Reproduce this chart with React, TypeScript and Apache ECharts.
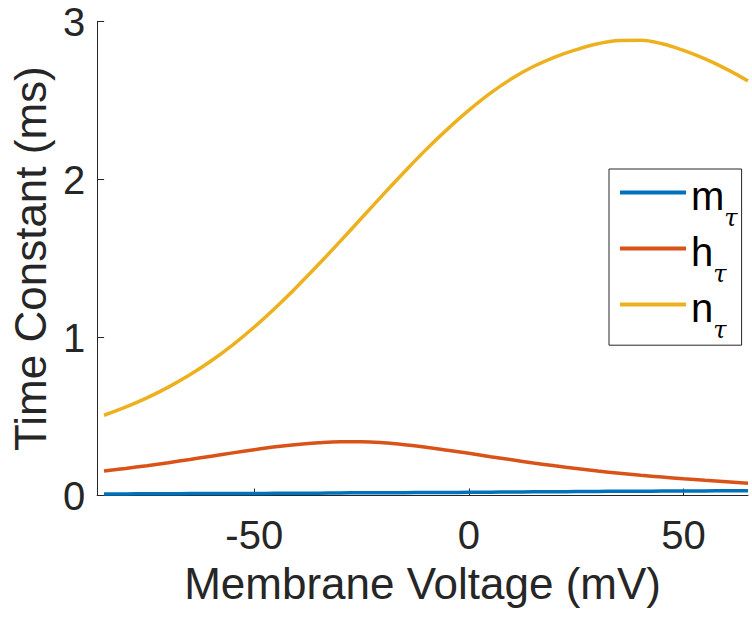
import React, { useEffect, useRef } from "react";
import * as echarts from "echarts";

const voltages = [-85, -80, -75, -70, -65, -60, -55, -50, -45, -40, -35, -30, -25, -20, -15, -10, -5, 0, 5, 10, 15, 20, 25, 30, 35, 40, 45, 50, 55, 60, 65];
const mTau = [0.010, 0.010, 0.011, 0.011, 0.012, 0.012, 0.013, 0.013, 0.014, 0.015, 0.015, 0.016, 0.017, 0.017, 0.018, 0.019, 0.019, 0.020, 0.021, 0.022, 0.023, 0.024, 0.025, 0.026, 0.027, 0.027, 0.028, 0.029, 0.029, 0.030, 0.030];
const hTau = [0.155, 0.171, 0.189, 0.208, 0.228, 0.249, 0.270, 0.290, 0.308, 0.323, 0.334, 0.340, 0.340, 0.334, 0.322, 0.306, 0.287, 0.267, 0.246, 0.226, 0.206, 0.188, 0.171, 0.155, 0.141, 0.128, 0.117, 0.106, 0.096, 0.087, 0.078];
const nTau = [0.508, 0.559, 0.618, 0.686, 0.764, 0.853, 0.954, 1.067, 1.191, 1.324, 1.464, 1.609, 1.757, 1.905, 2.050, 2.190, 2.320, 2.440, 2.548, 2.640, 2.716, 2.776, 2.823, 2.860, 2.881, 2.882, 2.860, 2.818, 2.764, 2.700, 2.625];
const gateNames = ["m", "h", "n"];
const xTicks = [-50, 0, 50];
const colors = ["#0072BD", "#D95319", "#EDB120"];

const FONT = "'Liberation Sans', Arial, Helvetica, sans-serif";
const AX = "#262626";

export default function App() {
  const ref = useRef<HTMLDivElement>(null);
  useEffect(() => {
    document.body.style.margin = "0";
    const chart = echarts.init(ref.current!, null, { renderer: "svg" });
    const values = [mTau, hTau, nTau];
    const option: any = {
      animation: false,
      backgroundColor: "#ffffff",
      textStyle: { fontFamily: FONT },
      grid: { left: 96.7, right: 4, top: 21.7, bottom: 122.5, containLabel: false },
      xAxis: {
        type: "value",
        min: -86.6,
        max: 65,
        name: "Membrane Voltage (mV)",
        nameLocation: "middle",
        nameGap: 66,
        nameTextStyle: { fontSize: 44, color: AX, fontFamily: FONT },
        axisLine: { show: true, onZero: false, lineStyle: { color: AX, width: 1 } },
        axisTick: { show: true, inside: true, length: 7, customValues: xTicks, lineStyle: { color: AX } },
        axisLabel: { fontSize: 40, color: AX, margin: 19, customValues: xTicks, fontFamily: FONT },
        splitLine: { show: false },
      },
      yAxis: {
        type: "value",
        min: 0,
        max: 3,
        interval: 1,
        name: "Time Constant (ms)",
        nameLocation: "middle",
        nameGap: 44,
        nameTextStyle: { fontSize: 44, color: AX, fontFamily: FONT },
        axisLine: { show: true, onZero: false, lineStyle: { color: AX, width: 1 } },
        axisTick: { show: true, inside: true, length: 7, lineStyle: { color: AX } },
        axisLabel: { fontSize: 40, color: AX, margin: 12, fontFamily: FONT },
        splitLine: { show: false },
      },
      legend: {
        orient: "vertical",
        left: 609,
        top: 169,
        padding: [3.5, 4, 3, 11],
        itemGap: -1.7,
        itemWidth: 66,
        itemHeight: 4,
        icon: "rect",
        borderColor: AX,
        borderWidth: 1,
        backgroundColor: "#ffffff",
        data: gateNames.map((g) => g + "τ"),
        formatter: (name: string) => `{b|${name[0]}}{s|τ}`,
        textStyle: {
          rich: {
            b: { fontSize: 40, lineHeight: 40, color: "#000", fontFamily: FONT, verticalAlign: "top", padding: [3, 0, 0, 0] },
            s: { fontSize: 24, lineHeight: 24, color: "#000", fontStyle: "italic", fontFamily: "'DejaVu Serif', serif", verticalAlign: "top", padding: [33.7, 0, 0, 0] },
          },
        },
      },
      series: gateNames.map((g, i) => ({
        name: g + "τ",
        type: "line",
        smooth: 0.4,
        showSymbol: false,
        symbol: "none",
        lineStyle: { color: colors[i], width: 3.5 },
        itemStyle: { color: colors[i] },
        data: voltages.map((v, j) => [v, values[i][j]]),
      })),
    };
    chart.setOption(option);
    return () => chart.dispose();
  }, []);
  return <div ref={ref} style={{ position: "fixed", left: 0, top: 0, width: 752, height: 618 }} />;
}
